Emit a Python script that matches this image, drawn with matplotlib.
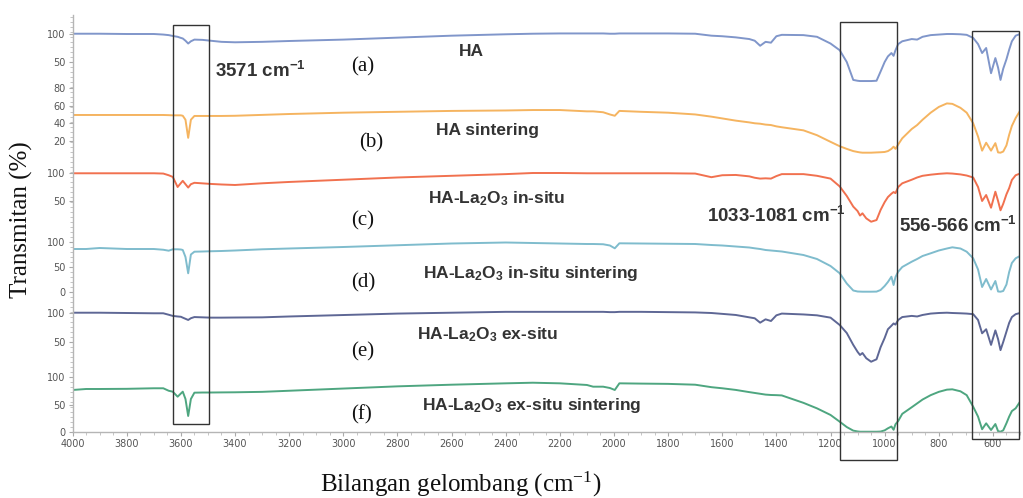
import matplotlib
matplotlib.use('Agg')
import matplotlib.pyplot as plt
import numpy as np
from matplotlib.patches import Rectangle
from matplotlib.ticker import MultipleLocator

plt.rcParams['mathtext.default'] = 'regular'

# ---------------- data ----------------
wavenumber = [4000, 3950, 3900, 3800, 3700, 3665, 3645, 3630, 3612, 3600,
              3593, 3583, 3573, 3563, 3550, 3520, 3490, 3450, 3400, 3300,
              3200, 3000, 2800, 2600, 2400, 2300, 2200, 2100, 2077, 2040,
              2015, 1997, 1980, 1900, 1800, 1700, 1640, 1600, 1550, 1500,
              1480, 1460, 1440, 1420, 1400, 1380, 1300, 1250, 1200, 1166,
              1140, 1116, 1100, 1091, 1082, 1068, 1050, 1030, 1015, 1000,
              988, 975, 967, 960, 950, 935, 900, 880, 860, 830,
              800, 770, 750, 720, 697, 673, 655, 640, 625, 607,
              591, 581, 572, 562, 550, 540, 530, 516, 500]

t_ha = [100.5, 100.5, 100.5, 100, 100, 99, 98, 96.5, 95, 93,
        92, 88, 83, 87, 90, 89.5, 88, 86, 85.2, 86,
        87.5, 90, 93.5, 97, 99.5, 100.5, 101, 101, 101, 101,
        100.5, 100.5, 101, 101, 101, 100.5, 97, 96, 94, 91,
        88, 79, 86, 84.5, 96, 98.5, 98, 95, 83, 71,
        50, 18, 16.5, 16, 16, 16, 16, 16.5, 33, 50,
        60, 66, 61, 71, 82, 87, 91, 90, 95, 98,
        99, 100, 100, 99.5, 98.5, 93, 82, 66, 75, 30,
        57, 40, 18, 38, 55, 72, 87, 97, 100]

t_ha_sint = [49.4, 49.4, 49.4, 49.4, 49.4, 49.4, 49.2, 49, 49, 49,
             48.5, 44, 23.5, 44, 48.3, 48.3, 48.3, 48.3, 48.5, 49.5,
             50.5, 52, 53, 54, 54.5, 55, 55, 53.5, 53.5, 52.5,
             50, 48.5, 54, 53, 52, 50, 47.5, 45.5, 43, 41,
             40, 39.5, 38.5, 38, 36.5, 35.5, 32, 26.5, 19, 14,
             11, 8.5, 7.5, 7, 6.7, 6.7, 6.7, 7, 7.2, 7.5,
             8.5, 11, 13.5, 11, 16, 23, 33.5, 38, 44, 52,
             58.5, 62.5, 62, 57.5, 52, 40, 25, 9, 18, 9,
             17.5, 7, 6.7, 8, 15, 27, 37, 46, 54]

t_insitu = [99.5, 99.5, 99.5, 99.5, 99.5, 99, 96, 93, 75, 82,
            86, 80, 74, 80, 82.5, 81.5, 80.5, 79.5, 78.6, 81.6,
            84, 88, 92, 95, 98, 100, 100, 99.5, 99.5, 99.5,
            99.5, 99.5, 99.5, 99.5, 99.5, 99, 92.5, 96, 96.5, 94,
            91.5, 90, 90.5, 90, 94.5, 98, 98, 95, 90, 76,
            59, 40, 32, 24, 28, 19, 13, 16, 34, 48,
            57, 63, 66, 64, 75, 81.6, 88, 92, 95, 97,
            98.5, 99.5, 99, 97.5, 95.5, 92, 75, 50, 60.7, 38,
            66.6, 50, 33.4, 45, 62, 73, 87.5, 96, 99]

t_insitu_sint = [86, 86, 88, 86, 86, 84.5, 82.6, 85.4, 85.4, 85,
                 84, 70, 37.4, 75, 80.6, 81, 81.5, 82, 83, 85.4,
                 87, 90, 93.5, 97, 99, 98, 97, 96, 96, 95.5,
                 93, 87.4, 97.4, 97, 96.5, 96, 94, 93, 91, 89,
                 87.4, 86, 84, 83, 82, 81, 74, 66, 52, 37.4,
                 17, 3, 1, 0.8, 0.6, 0.6, 0.6, 0.8, 4, 12,
                 20, 30.6, 14, 30, 40.6, 50, 60.6, 66, 72, 77.4,
                 83, 87, 89.4, 87, 80.6, 67.4, 45, 10, 26, 5,
                 22, 1, 0.6, 2, 15, 40, 58, 67.4, 72]

t_exsitu = [100.5, 100.5, 100.5, 100, 99.5, 99.5, 97, 95, 94, 93.5,
            92, 90, 88, 91, 93, 92.5, 92, 92, 92.2, 92.5,
            94, 96.5, 99, 100.5, 102, 102, 102, 102, 102, 102,
            101.5, 101.5, 102, 102, 101.5, 101, 100, 98.5, 96.6, 92.5,
            90.9, 83.3, 89.1, 86.2, 96, 99, 97.5, 96, 92, 79.3,
            65.5, 45, 33, 27.6, 31, 22, 16, 20.2, 41, 57,
            72, 78, 82, 80, 88, 93, 95, 94, 96.6, 99,
            100, 100.5, 100, 99.5, 99, 98, 88, 65, 72, 45,
            70, 55, 36, 50, 68, 83, 93, 98, 100]

t_exsitu_sint = [76.4, 78.2, 78.2, 78.5, 79.5, 79.5, 75, 73.3, 64.2, 70,
                 73.3, 60, 29.1, 60, 71.5, 71.8, 71.8, 72, 72.2, 73,
                 75, 79, 83, 86, 88.5, 89.6, 88.5, 85.5, 82.4, 82.4,
                 80, 76.4, 88.5, 88, 87.5, 86, 81.5, 79.5, 76.5, 72.5,
                 71, 69.5, 68, 67.3, 67, 66.5, 53, 43, 31, 18.7,
                 9, 2.5, 1, 0.5, 0.5, 0.5, 0.5, 0.5, 0.8, 3,
                 6.7, 10, 4, 14, 20, 33, 45, 52, 59, 67,
                 73, 77, 77.6, 74, 67, 46, 28, 5, 15.8, 3.6,
                 14.5, 1.5, 0.5, 3, 16, 28, 38, 43.1, 55]

sample_names = ['HA', 'HA sintering', 'HA-La$_2$O$_3$ in-situ',
                'HA-La$_2$O$_3$ in-situ sintering', 'HA-La$_2$O$_3$ ex-situ',
                'HA-La$_2$O$_3$ ex-situ sintering']
panel_letters = ['(a)', '(b)', '(c)', '(d)', '(e)', '(f)']
ytick_values = [[100, 50], [80, 60, 40, 20], [100, 50], [100, 50, 0], [100, 50], [100, 50, 0]]
xtick_values = list(range(4000, 599, -200))
band_labels = ['3571 cm$^{-1}$', '1033-1081 cm$^{-1}$', '556-566 cm$^{-1}$']
band_ranges = [(3630, 3495), (1166, 955), (676, 505)]

series = [t_ha, t_ha_sint, t_insitu, t_insitu_sint, t_exsitu, t_exsitu_sint]

# ---------------- layout / style ----------------
W, H = 1023, 498
colors = ['#8096ca', '#f5b460', '#f1714f', '#7fbccd', '#5e6795', '#4ea680']
offsets = [342, 273.4, 203, 140, 61, 0]
scales = [0.56, 0.883, 0.56, 0.5, 0.58, 0.55]

def fx(px):
    return px / W

def fy(py):
    return 1 - py / H

fig = plt.figure(figsize=(W / 100, H / 100), dpi=100)
ax = fig.add_axes([fx(72.6), fy(432), (1020 - 72.6) / W, (432 - 15) / H])
ax.set_xlim(4000, 500)
ax.set_ylim(0, 417)

wn = np.array(wavenumber)
for t, c, off, sc in zip(series, colors, offsets, scales):
    ax.plot(wn, off + sc * np.array(t), color=c, lw=1.4, solid_joinstyle='round')

# spines / ticks
for s in ['top', 'right']:
    ax.spines[s].set_visible(False)
for s in ['left', 'bottom']:
    ax.spines[s].set_color('#b5b5b5')
    ax.spines[s].set_linewidth(1.0)

ax.set_xticks(xtick_values)
ax.set_xticklabels([str(v) for v in xtick_values])
ax.xaxis.set_minor_locator(MultipleLocator(50))

yt_pos, yt_lab = [], []
for vals, off, sc in zip(ytick_values, offsets, scales):
    for v in vals:
        yt_pos.append(off + sc * v)
        yt_lab.append(str(v))
ax.set_yticks(yt_pos)
ax.set_yticklabels(yt_lab)
ax.yaxis.set_minor_locator(MultipleLocator(5))

ax.tick_params(axis='both', which='major', direction='out', length=3, width=0.8,
               color='#aaaaaa', labelcolor='#555555', labelsize=7, pad=2)
ax.tick_params(axis='both', which='minor', direction='out', length=2, width=0.6,
               color='#bbbbbb')
for lab in ax.get_xticklabels() + ax.get_yticklabels():
    lab.set_family('DejaVu Sans')

# boxes around bands
box_u = [(8, 407), (-28, 410), (-6.7, 401.3)]
for (hi, lo), (u0, u1) in zip(band_ranges, box_u):
    ax.add_patch(Rectangle((lo, u0), hi - lo, u1 - u0, fill=False,
                           edgecolor='#333333', lw=1.0, clip_on=False, zorder=5))

# sample names
name_pos = [(471, 52), (488, 130), (497, 199), (531, 273), (488, 335), (532, 405)]
for name, (px, py) in zip(sample_names, name_pos):
    fig.text(fx(px), fy(py), name, ha='center', va='center', family='Liberation Sans',
             weight='bold', size=12.5, color='#333333')

letter_pos = [(363, 67), (371, 143), (363, 221), (363, 283), (363, 352), (362, 415)]
for lt, (px, py) in zip(panel_letters, letter_pos):
    fig.text(fx(px), fy(py), lt, ha='center', va='center', family='Liberation Serif',
             size=15, color='#111111')

band_pos = [(215, 71), (707, 216), (899, 226)]
for bl, (px, py) in zip(band_labels, band_pos):
    fig.text(fx(px), fy(py), bl, ha='left', va='center', family='Liberation Sans',
             weight='bold', size=13.5, color='#333333')

fig.text(fx(21), fy(220), 'Transmitan (%)', rotation=90, ha='center', va='center',
         family='Liberation Serif', size=18, color='#111111')
fig.text(fx(461), fy(492), 'Bilangan gelombang (cm$^{-1}$)', ha='center', va='baseline',
         family='Liberation Serif', size=18, color='#111111')

fig.savefig('out.png', dpi=100, facecolor='white')
